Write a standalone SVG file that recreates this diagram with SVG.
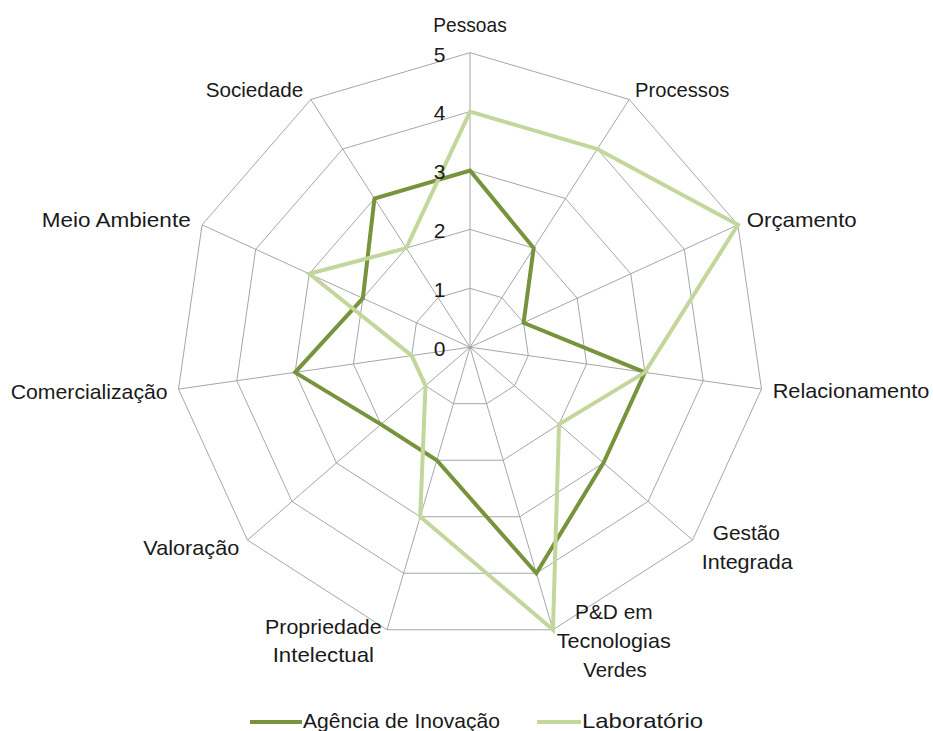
<svg xmlns="http://www.w3.org/2000/svg" width="933" height="731" viewBox="0 0 933 731">
<style>
.bg{fill:#ffffff}
.grid{fill:none;stroke:#a6a6a6;stroke-width:1}
.ser{fill:none;stroke-width:4;stroke-linejoin:miter}
.ag{stroke:#77933c}
.lab{stroke:#c3d69b}
text{font-family:"Liberation Sans",Arial,sans-serif;font-size:21px;fill:#1a1a1a}
.num{text-anchor:end}
</style>
<rect class="bg" x="0" y="0" width="933" height="731"/>
<g id="chart" transform="translate(470,347.2)">
  <g id="gridlines">
    <polygon class="grid" points="0,-58.9 31.84,-49.55 53.58,-24.47 58.3,8.38 44.51,38.57 16.59,56.51 -16.59,56.51 -44.51,38.57 -58.3,8.38 -53.58,-24.47 -31.84,-49.55"/>
    <polygon class="grid" points="0,-117.8 63.68,-99.1 107.16,-48.94 116.6,16.76 89.02,77.14 33.18,113.02 -33.18,113.02 -89.02,77.14 -116.6,16.76 -107.16,-48.94 -63.68,-99.1"/>
    <polygon class="grid" points="0,-176.7 95.52,-148.65 160.74,-73.41 174.9,25.14 133.53,115.71 49.77,169.53 -49.77,169.53 -133.53,115.71 -174.9,25.14 -160.74,-73.41 -95.52,-148.65"/>
    <polygon class="grid" points="0,-235.6 127.36,-198.2 214.32,-97.88 233.2,33.52 178.04,154.28 66.36,226.04 -66.36,226.04 -178.04,154.28 -233.2,33.52 -214.32,-97.88 -127.36,-198.2"/>
    <polygon class="grid" points="0,-294.5 159.2,-247.75 267.9,-122.35 291.5,41.9 222.55,192.85 82.95,282.55 -82.95,282.55 -222.55,192.85 -291.5,41.9 -267.9,-122.35 -159.2,-247.75"/>
  </g>
  <g id="spokes">
    <path class="grid" d="M0,0L0,-294.5M0,0L159.2,-247.75M0,0L267.9,-122.35M0,0L291.5,41.9M0,0L222.55,192.85M0,0L82.95,282.55M0,0L-82.95,282.55M0,0L-222.55,192.85M0,0L-291.5,41.9M0,0L-267.9,-122.35M0,0L-159.2,-247.75"/>
  </g>
  <g id="series">
    <polygon id="agencia" class="ser ag" points="0,-176.7 63.68,-99.1 53.58,-24.47 174.9,25.14 133.53,115.71 66.36,226.04 -33.18,113.02 -89.02,77.14 -174.9,25.14 -107.16,-48.94 -95.52,-148.65"/>
    <polygon id="laboratorio" class="ser lab" points="0,-235.6 127.36,-198.2 267.9,-122.35 174.9,25.14 89.02,77.14 82.95,282.55 -49.77,169.53 -44.51,38.57 -58.3,8.38 -160.74,-73.41 -63.68,-99.1"/>
  </g>
</g>
<g id="scale">
  <text class="num" x="445.5" y="61.5">5</text>
  <text class="num" x="445.5" y="120.4">4</text>
  <text class="num" x="445.5" y="179.3">3</text>
  <text class="num" x="445.5" y="238.2">2</text>
  <text class="num" x="445.5" y="297.1">1</text>
  <text class="num" x="445.5" y="356">0</text>
</g>
<g id="labels">
  <g id="n-pessoas"><text x="433.3" y="32.3" textLength="73.4" lengthAdjust="spacingAndGlyphs">Pessoas</text></g>
  <g id="n-processos"><text x="635" y="96.7" textLength="94.3" lengthAdjust="spacingAndGlyphs">Processos</text></g>
  <g id="n-orcamento"><text x="746.7" y="226.7" textLength="110" lengthAdjust="spacingAndGlyphs">Orçamento</text></g>
  <g id="n-relacionamento"><text x="772.7" y="398.3" textLength="156.6" lengthAdjust="spacingAndGlyphs">Relacionamento</text></g>
  <g id="n-gestao"><text x="712.7" y="540" textLength="67.3" lengthAdjust="spacingAndGlyphs">Gestão</text><text x="701.7" y="569.3" textLength="91" lengthAdjust="spacingAndGlyphs">Integrada</text></g>
  <g id="n-ped"><text x="575" y="619.3" textLength="77.7" lengthAdjust="spacingAndGlyphs">P&amp;D em</text><text x="556.7" y="648" textLength="114" lengthAdjust="spacingAndGlyphs">Tecnologias</text><text x="583.3" y="677" textLength="63.4" lengthAdjust="spacingAndGlyphs">Verdes</text></g>
  <g id="n-propriedade"><text x="265" y="634" textLength="116.7" lengthAdjust="spacingAndGlyphs">Propriedade</text><text x="272.7" y="661.7" textLength="101.3" lengthAdjust="spacingAndGlyphs">Intelectual</text></g>
  <g id="n-valoracao"><text x="143.3" y="555" textLength="96" lengthAdjust="spacingAndGlyphs">Valoração</text></g>
  <g id="n-comercializacao"><text x="10.7" y="399" textLength="157" lengthAdjust="spacingAndGlyphs">Comercialização</text></g>
  <g id="n-meio"><text x="41.7" y="227.3" textLength="149" lengthAdjust="spacingAndGlyphs">Meio Ambiente</text></g>
  <g id="n-sociedade"><text x="205.7" y="96.7" textLength="97.6" lengthAdjust="spacingAndGlyphs">Sociedade</text></g>
</g>
<g id="legend">
  <line class="ser ag" x1="250" y1="722" x2="302" y2="722"/>
  <text x="303" y="727.5" textLength="197" lengthAdjust="spacingAndGlyphs">Agência de Inovação</text>
  <line class="ser lab" x1="537" y1="722" x2="581" y2="722"/>
  <text x="582" y="727.5" textLength="121" lengthAdjust="spacingAndGlyphs">Laboratório</text>
</g>
</svg>
